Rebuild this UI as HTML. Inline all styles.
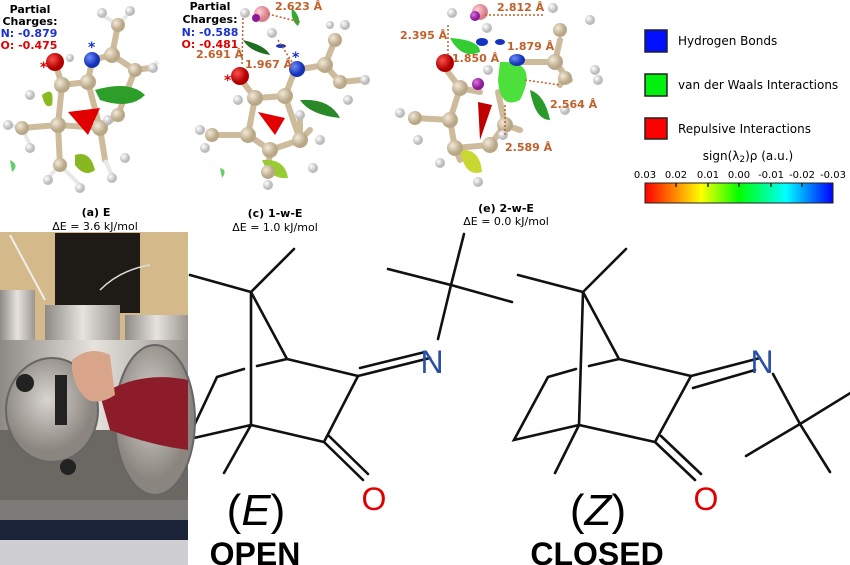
<!DOCTYPE html>
<html><head><meta charset="utf-8"><style>
body{margin:0;width:850px;height:565px;overflow:hidden;background:#fff;font-family:"DejaVu Sans",Verdana,sans-serif}
svg{position:absolute;left:0;top:0}
</style></head><body>
<svg width="850" height="565" viewBox="0 0 850 565">
<defs>
<radialGradient id="ct" cx=".35" cy=".35"><stop offset="0" stop-color="#f3e9d8"/><stop offset="1" stop-color="#b9a888"/></radialGradient>
<radialGradient id="hw" cx=".35" cy=".35"><stop offset="0" stop-color="#fff"/><stop offset="1" stop-color="#bbb"/></radialGradient>
<radialGradient id="ro" cx=".35" cy=".35"><stop offset="0" stop-color="#ff5050"/><stop offset="1" stop-color="#b00000"/></radialGradient>
<radialGradient id="bn" cx=".35" cy=".35"><stop offset="0" stop-color="#6b8cff"/><stop offset="1" stop-color="#1633b5"/></radialGradient>
<radialGradient id="pk" cx=".35" cy=".35"><stop offset="0" stop-color="#ffd0d6"/><stop offset="1" stop-color="#d9808c"/></radialGradient>
<radialGradient id="mg" cx=".35" cy=".35"><stop offset="0" stop-color="#e070e0"/><stop offset="1" stop-color="#8a1a9a"/></radialGradient>
<linearGradient id="bar" x1="0" x2="1"><stop offset="0" stop-color="#ff0000"/><stop offset=".3" stop-color="#ffff00"/><stop offset=".5" stop-color="#00ff00"/><stop offset=".75" stop-color="#00ffff"/><stop offset="1" stop-color="#0000ff"/></linearGradient>
<linearGradient id="met" x1="0" x2="1"><stop offset="0" stop-color="#8d8a86"/><stop offset=".5" stop-color="#e6e3df"/><stop offset="1" stop-color="#9a958f"/></linearGradient>
<radialGradient id="disk" cx=".45" cy=".4"><stop offset="0" stop-color="#d8d4cf"/><stop offset="1" stop-color="#8a857f"/></radialGradient>
</defs>

<!-- Molecule a -->
<g stroke="#cdbb9c" stroke-width="6" stroke-linecap="round" fill="none">
<path d="M55 62 L62 85 L88 82 L92 60 M62 85 L58 125 L100 128 L88 82 M58 125 L22 128 M58 125 L60 165 M100 128 L118 115 L135 70 L112 55 L92 60 M112 55 L118 25 M100 128 L105 160 M135 70 L150 68"/>
</g>
<g stroke="#e8e8e8" stroke-width="4" fill="none"><path d="M22 128 L8 125 M22 128 L30 145 M60 165 L48 178 M60 165 L80 185 M118 25 L102 15 M118 25 L130 12 M150 68 L158 62 M105 160 L112 175"/></g>
<path d="M42 95 Q55 85 52 105 Q45 110 42 95Z" fill="#8aba20"/>
<path d="M95 90 Q130 80 145 95 Q130 110 100 100Z" fill="#2e9e2a"/>
<path d="M68 112 L100 108 L88 135 Z" fill="#e00000"/>
<path d="M75 155 Q90 150 95 170 Q85 178 75 165Z" fill="#88b820"/>
<path d="M10 160 Q20 165 12 172Z" fill="#6c6"/>
<g fill="url(#ct)"><circle cx="62" cy="85" r="8"/><circle cx="88" cy="82" r="8"/><circle cx="58" cy="125" r="8"/><circle cx="100" cy="128" r="8"/><circle cx="112" cy="55" r="8"/><circle cx="135" cy="70" r="7"/><circle cx="118" cy="25" r="7"/><circle cx="22" cy="128" r="7"/><circle cx="60" cy="165" r="7"/><circle cx="118" cy="115" r="7"/></g>
<g fill="url(#hw)"><circle cx="8" cy="125" r="5"/><circle cx="30" cy="95" r="5"/><circle cx="30" cy="148" r="5"/><circle cx="48" cy="180" r="5"/><circle cx="80" cy="188" r="5"/><circle cx="102" cy="13" r="5"/><circle cx="130" cy="11" r="5"/><circle cx="153" cy="68" r="5"/><circle cx="112" cy="178" r="5"/><circle cx="125" cy="158" r="5"/><circle cx="70" cy="58" r="4"/><circle cx="108" cy="120" r="5"/></g>
<circle cx="55" cy="62" r="9" fill="url(#ro)"/><circle cx="92" cy="60" r="8" fill="url(#bn)"/>
<text x="40" y="72" fill="#e00000" font-size="14" font-weight="bold">*</text>
<text x="88" y="52" fill="#1a33cc" font-size="14" font-weight="bold">*</text>

<!-- Molecule c -->
<g stroke="#cdbb9c" stroke-width="6" stroke-linecap="round" fill="none">
<path d="M240 78 L255 98 L285 96 L295 70 M255 98 L248 135 L270 150 L300 140 L285 96 M248 135 L212 135 M270 150 L268 172 M300 140 L310 130 M295 70 L325 65 L340 82 L362 80 M325 65 L335 40 M300 140 L300 115"/>
</g>
<path d="M243 40 Q265 45 270 55 Q250 52 243 40Z" fill="#1f6d1f"/>
<path d="M292 8 Q302 18 298 26 Q290 20 292 8Z" fill="#3a3"/>
<path d="M300 100 Q330 98 340 118 Q310 115 300 100Z" fill="#2a8a2a"/>
<path d="M258 112 L285 118 L275 135Z" fill="#e00000"/>
<path d="M262 160 Q285 158 288 178 Q270 180 262 160Z" fill="#9c3"/>
<path d="M220 168 Q228 170 222 178Z" fill="#6c6"/>
<ellipse cx="281" cy="46" rx="5" ry="2" fill="#1533c0"/>
<g fill="url(#ct)"><circle cx="255" cy="98" r="8"/><circle cx="285" cy="96" r="8"/><circle cx="248" cy="135" r="8"/><circle cx="270" cy="150" r="8"/><circle cx="300" cy="140" r="8"/><circle cx="325" cy="65" r="8"/><circle cx="340" cy="82" r="7"/><circle cx="335" cy="40" r="7"/><circle cx="212" cy="135" r="7"/><circle cx="268" cy="172" r="7"/></g>
<g fill="url(#hw)"><circle cx="245" cy="13" r="5"/><circle cx="272" cy="33" r="5"/><circle cx="200" cy="130" r="5"/><circle cx="205" cy="148" r="5"/><circle cx="268" cy="185" r="5"/><circle cx="313" cy="168" r="5"/><circle cx="320" cy="140" r="5"/><circle cx="345" cy="25" r="5"/><circle cx="330" cy="25" r="4"/><circle cx="365" cy="80" r="5"/><circle cx="348" cy="100" r="5"/><circle cx="238" cy="100" r="5"/><circle cx="300" cy="115" r="5"/></g>
<circle cx="262" cy="14" r="8" fill="url(#pk)"/><circle cx="256" cy="18" r="4" fill="#8a1a9a"/>
<circle cx="240" cy="76" r="9" fill="url(#ro)"/><circle cx="297" cy="69" r="8" fill="url(#bn)"/>
<g stroke="#c0602a" stroke-width="1.5" stroke-dasharray="2,2" fill="none"><path d="M243 18 L242 66 M268 14 L300 22 M278 40 L292 62"/></g>
<text x="224" y="85" fill="#e00000" font-size="14" font-weight="bold">*</text>
<text x="292" y="62" fill="#1a33cc" font-size="14" font-weight="bold">*</text>

<!-- Molecule e -->
<g stroke="#cdbb9c" stroke-width="6" stroke-linecap="round" fill="none">
<path d="M445 68 L460 88 L480 92 M460 88 L450 120 L455 148 L490 145 L505 125 L498 92 M450 120 L415 118 M455 148 L460 160 M505 125 L520 130 M515 62 L555 62 L565 75 L570 80 M555 62 L560 40 M565 75 L560 85"/>
</g>
<path d="M450 38 Q480 40 480 52 Q462 60 450 38Z" fill="#3c3"/>
<path d="M500 62 Q540 60 520 100 Q500 110 498 80Z" fill="#4de03a"/>
<path d="M530 90 Q545 95 550 120 Q535 120 530 90Z" fill="#2a9a2a"/>
<path d="M478 102 L492 105 L480 140Z" fill="#c00000"/>
<path d="M460 150 Q480 148 482 172 Q465 178 460 150Z" fill="#c8d830"/>
<ellipse cx="482" cy="42" rx="6" ry="4" fill="#1533c0"/><ellipse cx="500" cy="42" rx="5" ry="3" fill="#1533c0"/>
<g fill="url(#ct)"><circle cx="460" cy="88" r="8"/><circle cx="450" cy="120" r="8"/><circle cx="455" cy="148" r="8"/><circle cx="490" cy="145" r="8"/><circle cx="505" cy="125" r="8"/><circle cx="555" cy="62" r="8"/><circle cx="565" cy="78" r="7"/><circle cx="560" cy="30" r="7"/><circle cx="415" cy="118" r="7"/></g>
<g fill="url(#hw)"><circle cx="452" cy="13" r="5"/><circle cx="487" cy="28" r="5"/><circle cx="553" cy="8" r="5"/><circle cx="590" cy="20" r="5"/><circle cx="400" cy="113" r="5"/><circle cx="418" cy="140" r="5"/><circle cx="440" cy="163" r="5"/><circle cx="478" cy="182" r="5"/><circle cx="503" cy="135" r="5"/><circle cx="595" cy="70" r="5"/><circle cx="598" cy="80" r="5"/><circle cx="565" cy="110" r="5"/><circle cx="488" cy="70" r="5"/></g>
<circle cx="480" cy="12" r="8" fill="url(#pk)"/><circle cx="475" cy="16" r="5" fill="url(#mg)"/>
<circle cx="478" cy="84" r="6" fill="url(#mg)"/>
<circle cx="445" cy="63" r="9" fill="url(#ro)"/><ellipse cx="517" cy="60" rx="8" ry="6" fill="url(#bn)"/>
<g stroke="#c0602a" stroke-width="1.5" stroke-dasharray="2,2" fill="none"><path d="M448 25 L448 55 M485 15 L545 15 M525 80 L560 85 M505 105 L505 135"/></g>

<!-- Molecule labels -->
<g font-weight="bold" font-size="11" text-anchor="middle">
<text x="30" y="13">Partial</text><text x="30" y="25">Charges:</text>
<text x="29" y="37" fill="#1a33cc">N: -0.879</text><text x="29" y="49" fill="#e00000">O: -0.475</text>
<text x="210" y="10">Partial</text><text x="210" y="23">Charges:</text>
<text x="210" y="36" fill="#1a33cc">N: -0.588</text><text x="210" y="48" fill="#e00000">O: -0.481</text>
</g>
<g font-weight="bold" font-size="11" fill="#c0602a">
<text x="196" y="58">2.691 Å</text><text x="245" y="68">1.967 Å</text><text x="275" y="10">2.623 Å</text>
<text x="497" y="11">2.812 Å</text><text x="400" y="39">2.395 Å</text><text x="507" y="50">1.879 Å</text><text x="452" y="62">1.850 Å</text><text x="550" y="108">2.564 Å</text><text x="505" y="151">2.589 Å</text>
</g>
<g font-size="11" text-anchor="middle">
<text x="96" y="216" font-weight="bold">(a) E</text><text x="95" y="230">ΔE = 3.6 kJ/mol</text>
<text x="275" y="217" font-weight="bold">(c) 1-w-E</text><text x="275" y="231">ΔE = 1.0 kJ/mol</text>
<text x="506" y="212" font-weight="bold">(e) 2-w-E</text><text x="506" y="225">ΔE = 0.0 kJ/mol</text>
</g>

<!-- Legend -->
<rect x="645" y="30" width="22" height="22" fill="#0010ff" stroke="#222" stroke-width="1.5"/>
<rect x="645" y="74" width="22" height="22" fill="#00f010" stroke="#222" stroke-width="1.5"/>
<rect x="645" y="118" width="22" height="21" fill="#ff0000" stroke="#222" stroke-width="1.5"/>
<g font-size="12"><text x="678" y="45">Hydrogen Bonds</text><text x="678" y="89">van der Waals Interactions</text><text x="678" y="133">Repulsive Interactions</text>
<text x="748" y="160" text-anchor="middle">sign(λ<tspan font-size="9" dy="2">2</tspan><tspan dy="-2">)ρ (a.u.)</tspan></text></g>
<g font-size="10" text-anchor="middle"><text x="645" y="178">0.03</text><text x="676" y="178">0.02</text><text x="708" y="178">0.01</text><text x="739" y="178">0.00</text><text x="771" y="178">-0.01</text><text x="802" y="178">-0.02</text><text x="833" y="178">-0.03</text></g>
<rect x="645" y="183" width="188" height="20" fill="url(#bar)" stroke="#222"/>
<g stroke="#222" stroke-width="1.5"><path d="M676 183v4M708 183v4M739 183v4M771 183v4M802 183v4"/></g>

<!-- Skeletal structures -->
<g stroke="#111" stroke-width="2.6" fill="none" stroke-linecap="round">
<path d="M251 292 L294 249 M251 292 L190 275 M251 292 L251 425 M251 292 L287 359 L358 376 L324 442 L251 425 L224 473 M287 359 L257 366 M244 369 L217 377 L185 445 M251 425 L185 440 M324 442 L363 480 M329 436 L368 474"/>
<path d="M358 376 L430 358 M360 368 L425 352 M438 339 L451 285 M388 269 L451 285 L464 234 M451 285 L512 302"/>
<path d="M583 292 L626 249 M583 292 L518 275 M583 292 L579 425 M583 292 L619 359 L691 376 L655 442 L579 425 L555 473 M619 359 L589 366 M576 369 L548 377 L514 440 L579 425 M655 442 L695 480 M661 436 L701 474"/>
<path d="M691 376 L760 358 M693 388 L755 370 M773 374 L800 424 M746 456 L800 424 L830 472 M800 424 L852 392"/>
</g>
<g font-family="Liberation Sans,Arial,sans-serif">
<text x="432" y="373" fill="#2a4fa8" font-size="32" text-anchor="middle">N</text>
<text x="762" y="373" fill="#2a4fa8" font-size="32" text-anchor="middle">N</text>
<text x="374" y="510" fill="#e00000" font-size="32" text-anchor="middle">O</text>
<text x="706" y="510" fill="#e00000" font-size="32" text-anchor="middle">O</text>
<text x="256" y="525" font-size="44" text-anchor="middle">(<tspan font-style="italic">E</tspan>)</text>
<text x="598" y="525" font-size="44" text-anchor="middle">(<tspan font-style="italic">Z</tspan>)</text>
<text x="255" y="565" font-size="32" font-weight="bold" text-anchor="middle">OPEN</text>
<text x="597" y="565" font-size="32" font-weight="bold" text-anchor="middle">CLOSED</text>
</g>

<!-- Photo -->
<g>
<rect x="0" y="232" width="188" height="333" fill="#d4b98a"/>
<rect x="55" y="233" width="85" height="80" fill="#1e1a16"/>
<rect x="0" y="290" width="35" height="55" fill="url(#met)"/>
<rect x="45" y="305" width="75" height="60" fill="url(#met)"/>
<rect x="125" y="315" width="63" height="50" fill="url(#met)"/>
<rect x="0" y="340" width="188" height="150" fill="url(#met)"/>
<rect x="0" y="430" width="188" height="70" fill="#6b6863"/>
<ellipse cx="52" cy="410" rx="46" ry="52" fill="url(#disk)" stroke="#666" stroke-width="2"/>
<ellipse cx="155" cy="420" rx="40" ry="75" fill="url(#disk)" stroke="#666" stroke-width="2"/>
<path d="M100 395 Q140 370 188 380 L188 450 Q150 445 110 430 Z" fill="#8c1c2a"/>
<path d="M72 360 Q90 345 110 355 L115 395 Q100 405 88 400 Q75 390 72 370Z" fill="#d9a58a"/>
<rect x="55" y="375" width="12" height="50" fill="#222"/>
<circle cx="25" cy="383" r="9" fill="#222"/><circle cx="68" cy="467" r="8" fill="#222"/>
<rect x="0" y="500" width="188" height="30" fill="#7d7b77"/>
<rect x="0" y="520" width="188" height="20" fill="#1b2438"/>
<rect x="0" y="540" width="188" height="25" fill="#cfcfd2"/>
<path d="M10 235 L45 300" stroke="#eee" stroke-width="2"/>
<path d="M100 290 Q120 270 150 265" stroke="#ddd" stroke-width="1.5" fill="none"/>
</g>
</svg>
</body></html>
